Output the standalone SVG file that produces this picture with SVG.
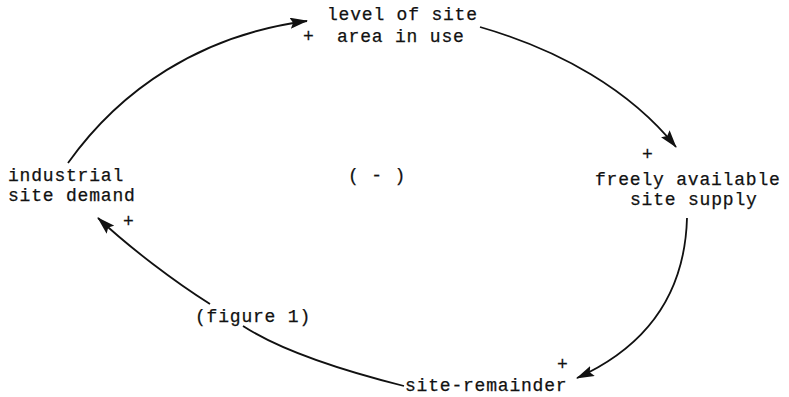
<svg xmlns="http://www.w3.org/2000/svg" width="789" height="397" viewBox="0 0 789 397">
<style>
text{font-family:"Liberation Mono","Courier New",monospace;font-size:18px;letter-spacing:0.8px;fill:#111;stroke:#111;stroke-width:0.25}
.c{fill:none;stroke:#111;stroke-width:1.8}
</style>
<defs>
<marker id="ah" viewBox="0 0 18 11" refX="17" refY="5.5" markerWidth="18" markerHeight="11" markerUnits="userSpaceOnUse" orient="auto">
<path d="M0,0 L18,5.5 L0,11 L3,5.5 Z" fill="#111"/>
</marker>
</defs>
<rect width="789" height="397" fill="#fff"/>
<g id="connectors">
<path class="c" d="M68,163 C120,90 200,35 307,21" marker-end="url(#ah)"/>
<path class="c" d="M480,27 C560,50 630,90 676,147" marker-end="url(#ah)"/>
<path class="c" d="M687,218 C685,290 650,345 577,378" marker-end="url(#ah)"/>
<path class="c" d="M404,386 C340,370 280,350 243,326"/>
<path class="c" d="M210,304 C175,282 130,248 98,218" marker-end="url(#ah)"/>
</g>
<g id="level">
<text x="327" y="20">level of site</text>
<text x="303" y="42">+</text>
<text x="337" y="42">area in use</text>
</g>
<g id="supply">
<text x="642" y="160">+</text>
<text x="595" y="185">freely available</text>
<text x="630" y="205">site supply</text>
</g>
<g id="remainder">
<text x="557" y="370">+</text>
<text x="405" y="391">site-remainder</text>
</g>
<g id="figure">
<text x="195" y="322">(figure 1)</text>
</g>
<g id="demand">
<text x="8" y="181">industrial</text>
<text x="8" y="201">site demand</text>
<text x="123" y="227">+</text>
</g>
<g id="loop">
<text x="348" y="181">( - )</text>
</g>
</svg>
